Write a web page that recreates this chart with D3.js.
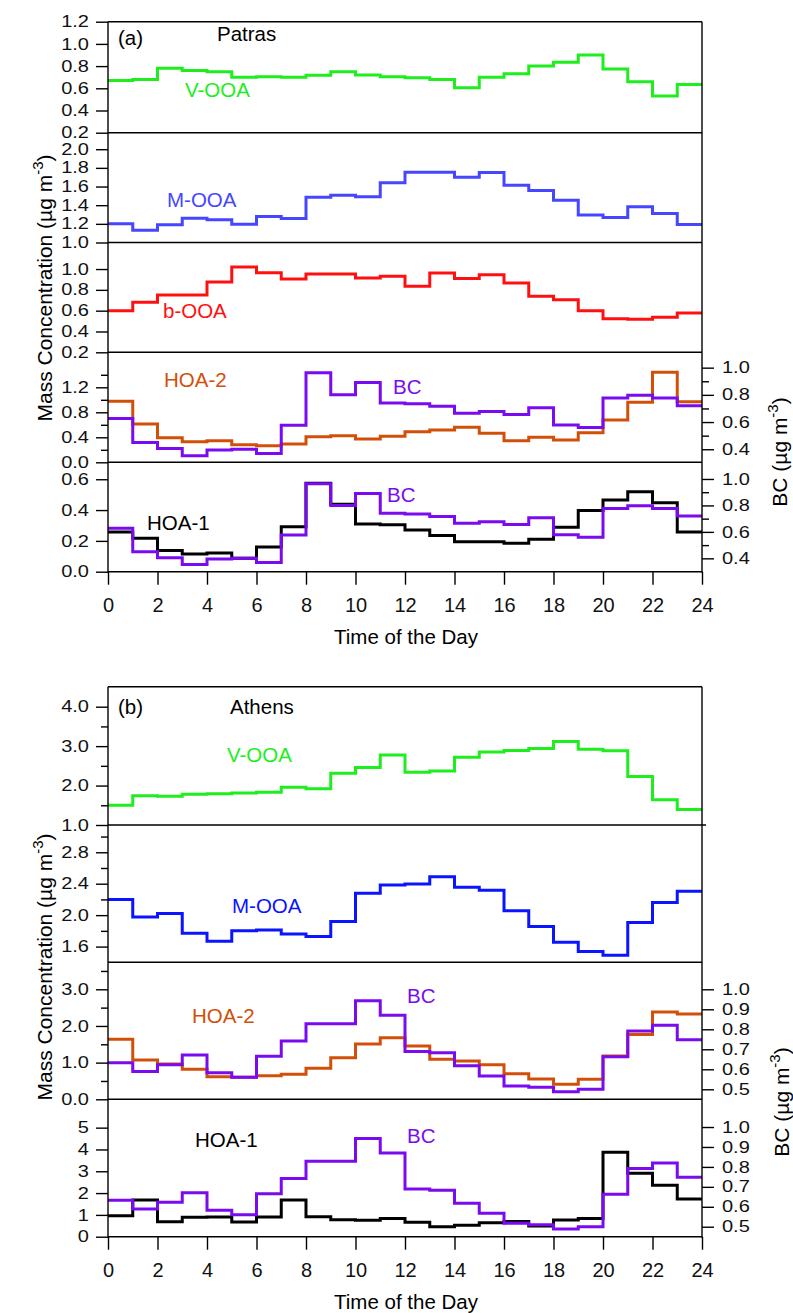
<!DOCTYPE html>
<html>
<head>
<meta charset="utf-8">
<script src="https://cdn.jsdelivr.net/npm/d3@7"></script>
<style>
  body { margin: 0; background: #fff; }
  svg { font-family: Arial, "Liberation Sans", sans-serif; }
</style>
</head>
<body>
<svg id="chart" width="793" height="1313"></svg>
<script>
// hours of the day (start of each hourly bin)
const hours = d3.range(0, 24);
const hourTicks = d3.range(0, 25, 2);

// (a) Patras
const patrasVOOA = [0.67, 0.68, 0.78, 0.76, 0.75, 0.70, 0.705, 0.70, 0.717, 0.75, 0.72, 0.705,
                    0.695, 0.68, 0.605, 0.70, 0.73, 0.80, 0.835, 0.90, 0.775, 0.66, 0.53, 0.635];
const patrasMOOA = [1.20, 1.13, 1.19, 1.26, 1.245, 1.196, 1.28, 1.257, 1.485, 1.507, 1.49, 1.64,
                    1.753, 1.753, 1.70, 1.75, 1.614, 1.557, 1.453, 1.296, 1.268, 1.382, 1.31, 1.193];
const patrasBOOA = [0.60, 0.68, 0.75, 0.75, 0.875, 1.02, 0.965, 0.904, 0.952, 0.952, 0.914, 0.93,
                    0.834, 0.962, 0.91, 0.945, 0.866, 0.738, 0.705, 0.60, 0.523, 0.517, 0.536, 0.578];
const patrasHOA2 = [0.976, 0.613, 0.394, 0.33, 0.346, 0.282, 0.266, 0.293, 0.41, 0.426, 0.373, 0.416,
                    0.49, 0.517, 0.56, 0.464, 0.346, 0.40, 0.357, 0.474, 0.677, 0.96, 1.44, 0.97];
const patrasHOA1 = [0.258, 0.217, 0.137, 0.115, 0.121, 0.087, 0.16, 0.292, 0.574, 0.438, 0.31, 0.305,
                    0.27, 0.235, 0.195, 0.195, 0.184, 0.21, 0.288, 0.397, 0.465, 0.519, 0.447, 0.258];
const patrasBC   = [0.627, 0.45, 0.405, 0.353, 0.395, 0.40, 0.368, 0.576, 0.963, 0.80, 0.89, 0.74,
                    0.735, 0.716, 0.665, 0.677, 0.655, 0.706, 0.579, 0.56, 0.777, 0.797, 0.776, 0.72];

// (b) Athens
const athensVOOA = [1.50, 1.74, 1.73, 1.78, 1.79, 1.81, 1.83, 1.955, 1.92, 2.31, 2.46, 2.775,
                    2.34, 2.37, 2.72, 2.85, 2.89, 2.94, 3.12, 2.92, 2.88, 2.23, 1.64, 1.39];
const athensMOOA = [2.20, 1.977, 2.02, 1.77, 1.668, 1.80, 1.81, 1.76, 1.727, 1.918, 2.28, 2.384,
                    2.397, 2.49, 2.355, 2.317, 2.057, 1.854, 1.656, 1.537, 1.49, 1.905, 2.16, 2.304];
const athensHOA2 = [1.636, 1.072, 0.963, 0.818, 0.617, 0.60, 0.644, 0.68, 0.845, 1.135, 1.508, 1.68,
                    1.454, 1.09, 1.045, 0.944, 0.698, 0.554, 0.409, 0.545, 1.18, 1.77, 2.38, 2.326];
const athensHOA1 = [0.96, 1.68, 0.69, 0.89, 0.90, 0.67, 0.90, 1.68, 0.92, 0.78, 0.75, 0.84,
                    0.66, 0.46, 0.52, 0.64, 0.70, 0.49, 0.77, 0.83, 3.87, 2.91, 2.36, 1.73];
const athensBC   = [0.633, 0.589, 0.623, 0.671, 0.583, 0.56, 0.665, 0.742, 0.828, 0.828, 0.943, 0.87,
                    0.689, 0.683, 0.618, 0.567, 0.517, 0.51, 0.488, 0.50, 0.663, 0.792, 0.82, 0.748];

const colors = {
  voa: "#1eee1e", moaA: "#4646ff", moaB: "#0a14ff", boa: "#ff1010",
  hoa2: "#d24f0a", hoa1: "#000000", bc: "#7a0af0"
};

const svg = d3.select("#chart");
const X0 = 108, X1 = 702;
const x = d3.scaleLinear().domain([0, 24]).range([X0, X1]);

// step line: last value held until hour 24
function stepPath(yScale, vals) {
  const pts = hours.map((h, i) => [h, vals[i]]).concat([[24, vals[vals.length - 1]]]);
  return d3.line().x(d => x(d[0])).y(d => yScale(d[1])).curve(d3.curveStepAfter)(pts);
}

function styleAxis(g) {
  g.selectAll("path.domain").remove();
  g.selectAll("line").attr("stroke", "#000").attr("stroke-width", 1.4);
  g.selectAll("text").attr("font-size", 20).attr("fill", "#111");
}

// y tick labels in the original are short and wide
function stretchLabels(g) {
  g.selectAll("text")
    .attr("font-size", 16)
    .attr("transform", function () { return `translate(${this.getAttribute("x")},0) scale(1.25,1)`; })
    .attr("x", 0);
}

function drawPanel(p) {
  const y = d3.scaleLinear().domain(p.domain).range([p.bottom, p.top]);
  const g = svg.append("g");
  // minor ticks
  if (p.minor) {
    g.append("g").attr("transform", `translate(${X0},0)`)
      .call(d3.axisLeft(y).tickValues(p.minor).tickSize(7).tickFormat(""))
      .call(styleAxis);
  }
  g.append("g").attr("transform", `translate(${X0},0)`)
    .call(d3.axisLeft(y).tickValues(p.ticks).tickSize(12).tickPadding(7).tickFormat(d3.format(p.fmt || ".1f")))
    .call(styleAxis).call(stretchLabels);

  let yR = null;
  if (p.rDomain) {
    yR = d3.scaleLinear().domain(p.rDomain).range([p.bottom, p.top]);
    if (p.rMinor) {
      g.append("g").attr("transform", `translate(${X1},0)`)
        .call(d3.axisRight(yR).tickValues(p.rMinor).tickSize(7).tickFormat(""))
        .call(styleAxis);
    }
    g.append("g").attr("transform", `translate(${X1},0)`)
      .call(d3.axisRight(yR).tickValues(p.rTicks).tickSize(12).tickPadding(8).tickFormat(d3.format(".1f")))
      .call(styleAxis).call(stretchLabels);
  }

  p.series.forEach(s => {
    g.append("path")
      .attr("d", stepPath(s.right ? yR : y, s.values))
      .attr("fill", "none")
      .attr("stroke", s.color)
      .attr("stroke-width", 3)
      .attr("stroke-linejoin", "miter");
  });

  // separator line at panel bottom
  g.append("line")
    .attr("x1", X0).attr("x2", p.sepRight || X1)
    .attr("y1", p.bottom).attr("y2", p.bottom)
    .attr("stroke", "#000").attr("stroke-width", 1.4);

  (p.labels || []).forEach(l => {
    g.append("text").attr("x", l.x).attr("y", l.y)
      .attr("font-size", 20.5).attr("fill", l.color || "#000")
      .text(l.text);
  });
}

function drawFigure(f) {
  f.panels.forEach(drawPanel);
  const top = f.panels[0].top, bottom = f.panels[f.panels.length - 1].bottom;
  // frame
  svg.append("line").attr("x1", X0).attr("x2", X1).attr("y1", top).attr("y2", top)
    .attr("stroke", "#000").attr("stroke-width", 1.4);
  svg.append("line").attr("x1", X0).attr("x2", X0).attr("y1", top).attr("y2", bottom + 1)
    .attr("stroke", "#000").attr("stroke-width", 1.4);
  svg.append("line").attr("x1", X1).attr("x2", X1).attr("y1", top).attr("y2", bottom + 1)
    .attr("stroke", "#000").attr("stroke-width", 1.4);

  svg.append("g").attr("transform", `translate(0,${bottom})`)
    .call(d3.axisBottom(x).tickValues(hourTicks).tickSize(13).tickPadding(13).tickFormat(d3.format("d")))
    .call(styleAxis);

  svg.append("text").attr("x", (X0 + X1) / 2 + 1).attr("y", bottom + 72)
    .attr("text-anchor", "middle").attr("font-size", 20.5).text("Time of the Day");

  const lt = svg.append("text")
    .attr("transform", `translate(${f.leftTitle[0]},${f.leftTitle[1]}) rotate(-90)`)
    .attr("text-anchor", "middle").attr("font-size", 21);
  lt.append("tspan").text("Mass Concentration (µg m");
  lt.append("tspan").attr("dy", -9).attr("font-size", 15).text("-3");
  lt.append("tspan").attr("dy", 9).text(")");

  const rt = svg.append("text")
    .attr("transform", `translate(${f.rightTitle[0]},${f.rightTitle[1]}) rotate(-90)`)
    .attr("text-anchor", "middle").attr("font-size", 21);
  rt.append("tspan").text("BC (µg m");
  rt.append("tspan").attr("dy", -9).attr("font-size", 15).text("-3");
  rt.append("tspan").attr("dy", 9).text(")");
}

drawFigure({
  leftTitle: [52, 288], rightTitle: [787, 452],
  panels: [
    { top: 21.7, bottom: 132.7, domain: [0.2, 1.2], ticks: [0.2, 0.4, 0.6, 0.8, 1.0, 1.2],
      series: [{ values: patrasVOOA, color: colors.voa }],
      labels: [{ text: "(a)", x: 118, y: 45 }, { text: "Patras", x: 217, y: 41 },
               { text: "V-OOA", x: 185, y: 97, color: colors.voa }] },
    { top: 132.7, bottom: 242.5, domain: [1.0, 2.177], ticks: [1.0, 1.2, 1.4, 1.6, 1.8, 2.0],
      series: [{ values: patrasMOOA, color: colors.moaA }],
      labels: [{ text: "M-OOA", x: 167, y: 207, color: colors.moaA }] },
    { top: 242.5, bottom: 352.3, domain: [0.2, 1.255], ticks: [0.2, 0.4, 0.6, 0.8, 1.0],
      series: [{ values: patrasBOOA, color: colors.boa }],
      labels: [{ text: "b-OOA", x: 163, y: 318, color: colors.boa }] },
    { top: 352.3, bottom: 462.3, domain: [0, 1.76], ticks: [0, 0.4, 0.8, 1.2], minor: [0.2, 0.6, 1.0, 1.4],
      rDomain: [0.304, 1.113], rTicks: [0.4, 0.6, 0.8, 1.0], rMinor: [0.5, 0.7, 0.9],
      series: [{ values: patrasHOA2, color: colors.hoa2 }, { values: patrasBC, color: colors.bc, right: true }],
      labels: [{ text: "HOA-2", x: 164, y: 387, color: colors.hoa2 }, { text: "BC", x: 393, y: 394, color: colors.bc }] },
    { top: 462.3, bottom: 571.7, domain: [0, 0.71], ticks: [0, 0.2, 0.4, 0.6],
      rDomain: [0.299, 1.126], rTicks: [0.4, 0.6, 0.8, 1.0], rMinor: [0.5, 0.7, 0.9],
      series: [{ values: patrasHOA1, color: colors.hoa1 }, { values: patrasBC, color: colors.bc, right: true }],
      labels: [{ text: "HOA-1", x: 147, y: 530 }, { text: "BC", x: 387, y: 502, color: colors.bc }] }
  ]
});

drawFigure({
  leftTitle: [52, 967], rightTitle: [789, 1102],
  panels: [
    { top: 686.7, bottom: 825, domain: [1.0, 4.507], ticks: [1, 2, 3, 4], minor: [1.5, 2.5, 3.5],
      sepRight: 706,
      series: [{ values: athensVOOA, color: colors.voa }],
      labels: [{ text: "(b)", x: 118, y: 714 }, { text: "Athens", x: 230, y: 714 },
               { text: "V-OOA", x: 227, y: 762, color: colors.voa }] },
    { top: 825, bottom: 962.3, domain: [1.40, 3.147], ticks: [1.6, 2.0, 2.4, 2.8], minor: [1.8, 2.2, 2.6, 3.0],
      series: [{ values: athensMOOA, color: colors.moaB }],
      labels: [{ text: "M-OOA", x: 232, y: 913, color: colors.moaB }] },
    { top: 962.3, bottom: 1099.3, domain: [0, 3.736], ticks: [0, 1, 2, 3], minor: [0.5, 1.5, 2.5, 3.5],
      rDomain: [0.45, 1.135], rTicks: [0.5, 0.6, 0.7, 0.8, 0.9, 1.0],
      series: [{ values: athensHOA2, color: colors.hoa2 }, { values: athensBC, color: colors.bc, right: true }],
      labels: [{ text: "HOA-2", x: 192, y: 1023, color: colors.hoa2 }, { text: "BC", x: 407, y: 1003, color: colors.bc }] },
    { top: 1099.3, bottom: 1236.7, domain: [0, 6.30], ticks: [0, 1, 2, 3, 4, 5], fmt: "d",
      rDomain: [0.45, 1.139], rTicks: [0.5, 0.6, 0.7, 0.8, 0.9, 1.0],
      series: [{ values: athensHOA1, color: colors.hoa1 }, { values: athensBC, color: colors.bc, right: true }],
      labels: [{ text: "HOA-1", x: 195, y: 1147 }, { text: "BC", x: 407, y: 1143, color: colors.bc }] }
  ]
});
</script>
</body>
</html>
